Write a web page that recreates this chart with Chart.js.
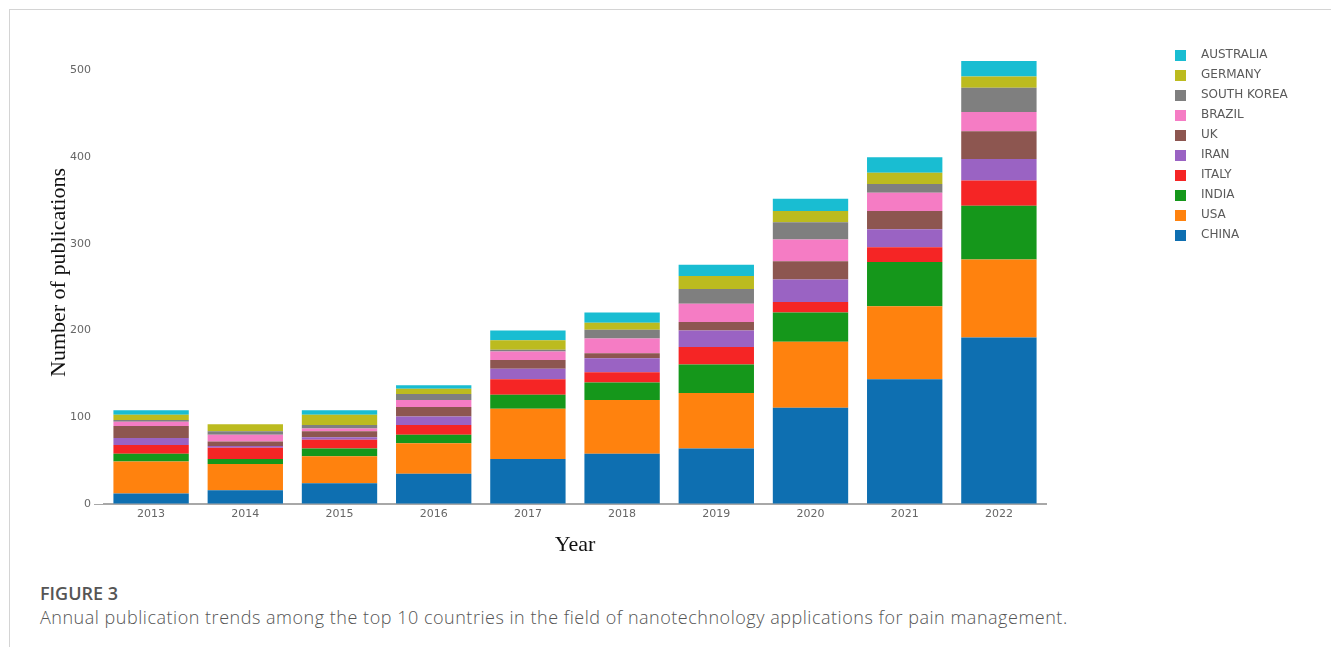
<!DOCTYPE html>
<html>
<head>
<meta charset="utf-8">
<script src="https://cdn.jsdelivr.net/npm/chart.js@4"></script>
<style>
  body { margin: 0; background: #fff; width: 1331px; height: 647px; overflow: hidden; position: relative; }
  #frame { position: absolute; left: 9px; top: 9px; right: 0; bottom: 0; border-left: 1px solid #d4d4d4; border-top: 1px solid #d4d4d4; }
  #chart { position: absolute; left: 0; top: 0; }
  .fig { position: absolute; left: 40px; font-family: "Open Sans", sans-serif; color: #555; }
  #figno { top: 581px; font-size: 18px; font-weight: 600; }
  #caption { top: 605px; font-size: 18px; font-weight: 300; letter-spacing: 0.52px; }
</style>
</head>
<body>
<div id="frame"></div>
<canvas id="chart" width="1331" height="568"></canvas>
<div class="fig" id="figno">FIGURE 3</div>
<div class="fig" id="caption">Annual publication trends among the top 10 countries in the field of nanotechnology applications for pain management.</div>
<script>
// số liệu
const years = ['2013', '2014', '2015', '2016', '2017', '2018', '2019', '2020', '2021', '2022'];
const yTicks = [0, 100, 200, 300, 400, 500];

const china      = [12, 16, 24, 35, 52, 58, 64, 111, 144, 192];
const usa        = [37, 30, 31, 35, 58, 62, 64, 76, 84, 90];
const india      = [9, 6, 9, 10, 16, 20, 33, 34, 51, 62];
const italy      = [10, 13, 10, 11, 18, 12, 20, 12, 17, 29];
const iran       = [8, 2, 3, 10, 12, 16, 19, 26, 21, 25];
const uk         = [14, 5, 7, 11, 10, 6, 10, 21, 21, 32];
const brazil     = [5, 8, 3, 8, 10, 17, 21, 25, 21, 22];
const southKorea = [2, 4, 4, 7, 2, 10, 17, 20, 10, 28];
const germany    = [6, 8, 12, 6, 11, 8, 15, 13, 13, 13];
const australia  = [5, 0, 5, 4, 11, 12, 13, 14, 18, 18];

const countries = ['CHINA', 'USA', 'INDIA', 'ITALY', 'IRAN', 'UK', 'BRAZIL', 'SOUTH KOREA', 'GERMANY', 'AUSTRALIA'];
const series = [china, usa, india, italy, iran, uk, brazil, southKorea, germany, australia];
const colors = ['#0e6fb1', '#ff820e', '#15971b', '#f52525', '#9a63c3', '#8d5650', '#f57cc4', '#7f7f7f', '#bcbb1f', '#19bdd2'];

// small swatch with empty space after it, so the legend text sits further right
function swatch(color) {
  const c = document.createElement('canvas');
  c.width = 20;
  c.height = 11;
  const g = c.getContext('2d');
  g.fillStyle = color;
  g.fillRect(0, 0, 11, 11);
  return c;
}
const swatches = colors.map(swatch);

// legend sits far to the right of the plot, so widen its box and push the items over
const legendGap = {
  id: 'legendGap',
  afterInit(chart) {
    const legend = chart.legend;
    const fit = legend.fit;
    legend.fit = function () {
      fit.call(this);
      this.width = 285;
    };
  },
  afterLayout(chart) {
    chart.legend.left = chart.chartArea.right + 121;
  }
};

Chart.defaults.font.family = '"DejaVu Sans", sans-serif';

new Chart(document.getElementById('chart'), {
  type: 'bar',
  data: {
    labels: years,
    datasets: countries.map((name, i) => ({
      label: name,
      data: series[i],
      backgroundColor: colors[i],
      borderWidth: 0,
      barPercentage: 0.8,
      categoryPercentage: 1
    }))
  },
  options: {
    responsive: false,
    animation: false,
    layout: { padding: { left: 10, top: 41, right: 0, bottom: 10 } },
    plugins: {
      tooltip: { enabled: false },
      legend: {
        position: 'right',
        align: 'start',
        reverse: true,
        labels: {
          usePointStyle: true,
          pointStyleWidth: 20,
          boxHeight: 11,
          padding: 8,
          color: '#5a5a5a',
          font: { size: 12 },
          generateLabels(chart) {
            const items = Chart.defaults.plugins.legend.labels.generateLabels(chart);
            items.forEach(it => { it.pointStyle = swatches[it.datasetIndex]; });
            return items;
          }
        }
      }
    },
    scales: {
      x: {
        stacked: true,
        grid: { display: false, drawTicks: false },
        border: { display: true, color: '#a8a8a8', width: 2 },
        ticks: { color: '#666', font: { size: 11 }, padding: 4 },
        title: {
          display: true,
          text: 'Year',
          color: '#111',
          font: { family: '"Liberation Serif", serif', size: 22 },
          padding: 0
        },
        afterFit(scale) { scale.height = 54; }
      },
      y: {
        stacked: true,
        min: 0,
        max: 534,
        grid: {
          drawOnChartArea: false,
          drawTicks: true,
          tickLength: 10,
          color: ctx => (ctx.tick && ctx.tick.value === 0 ? '#a8a8a8' : 'rgba(0,0,0,0)')
        },
        border: { display: false },
        afterBuildTicks(scale) { scale.ticks = yTicks.map(v => ({ value: v })); },
        ticks: { color: '#666', font: { size: 11 }, padding: 3 },
        title: {
          display: true,
          text: 'Number of publications',
          color: '#111',
          font: { family: '"Liberation Serif", serif', size: 22 },
          padding: { top: 36, bottom: 0 }
        },
        afterFit(scale) { scale.width = 94; }
      }
    }
  },
  plugins: [legendGap]
});
</script>
</body>
</html>
